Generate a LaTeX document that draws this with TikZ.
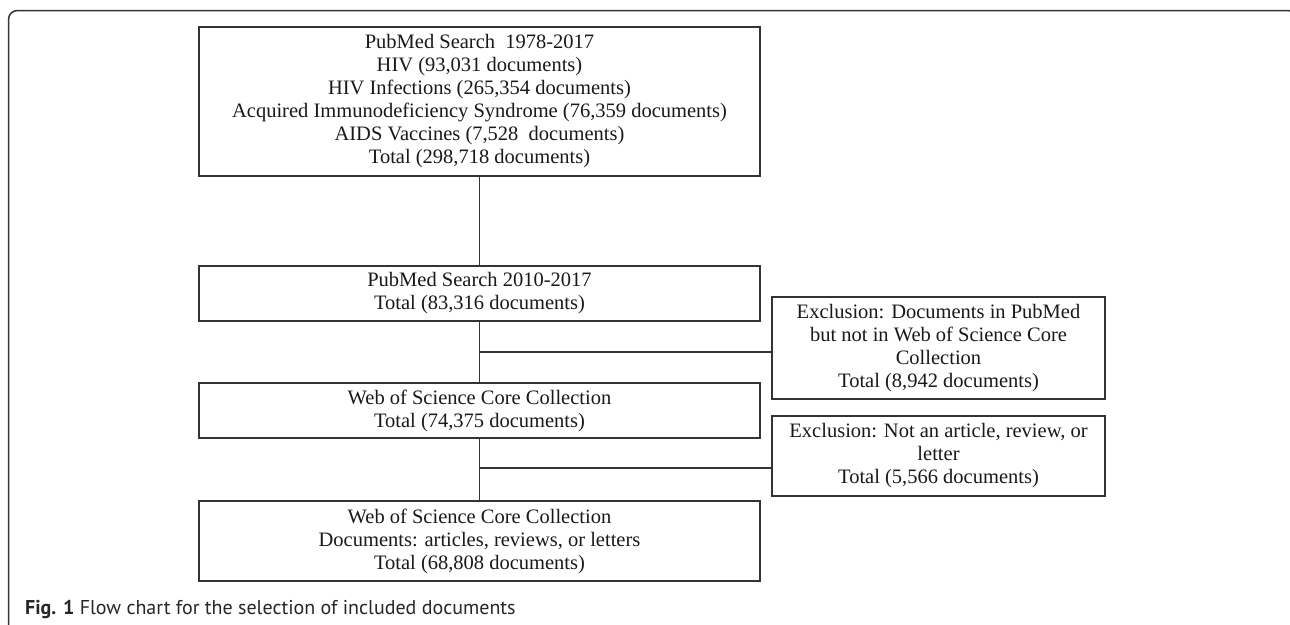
\documentclass[tikz,border=0pt]{standalone}
\usepackage{fontspec}
\setmainfont{Liberation Serif}
\newfontfamily\capfont{PT Sans}
\usepackage{xcolor}
\usepackage{tikz}
\usetikzlibrary{positioning,calc}

\definecolor{inkgray}{HTML}{333333}

\begin{document}
\begin{tikzpicture}[x=1pt, y=-1pt,
    flowbox/.style={draw=inkgray, line width=1.4pt, align=center, inner sep=0pt,
        text=black!90, font=\fontsize{20.5}{23}\selectfont},
    mainbox/.style={flowbox, minimum width=561pt},
    exbox/.style={flowbox, minimum width=333pt},
    link/.style={draw=inkgray, line width=1.2pt}]
    \useasboundingbox (0,0) rectangle (1290,624);

    % Outer frame
    \draw[inkgray, line width=1.5pt, rounded corners=9pt] (8.5,660) -- (8.5,10.5) -- (1297,10.5) -- (1297,660);

    % Main column
    \node[mainbox, minimum height=149pt] (search) at (479.5,101.5)
        {PubMed Search~ 1978-2017\\ HIV (93,031 documents)\\ HIV Infections (265,354 documents)\\
         Acquired Immunodeficiency Syndrome (76,359 documents)\\ AIDS Vaccines (7,528~ documents)\\
         Total (298,718 documents)};
    \node[mainbox, minimum height=55pt] (recent) at (479.5,293.5)
        {PubMed Search 2010-2017\\ Total (83,316 documents)};
    \node[mainbox, minimum height=55pt] (wos) at (479.5,410.5)
        {Web of Science Core Collection\\ Total (74,375 documents)};
    \node[mainbox, minimum height=80pt] (final) at (479.5,541)
        {Web of Science Core Collection\\ Documents: articles, reviews, or letters\\ Total (68,808 documents)};

    % Exclusions
    \node[exbox, minimum height=102pt] (exwos) at (938.5,348)
        {Exclusion: Documents in PubMed\\ but not in Web of Science Core\\ Collection\\ Total (8,942 documents)};
    \node[exbox, minimum height=80pt] (extype) at (938.5,456)
        {Exclusion: Not an article, review, or\\ letter\\ Total (5,566 documents)};

    % Connectors
    \draw[link] (search.south) -- (recent.north);
    \draw[link] (recent.south) -- (wos.north);
    \draw[link] (wos.south) -- (final.north);
    \coordinate (jwos) at (479.5,352);
    \coordinate (jtype) at (479.5,468);
    \draw[link] (jwos) -- (jwos -| exwos.west);
    \draw[link] (jtype) -- (jtype -| extype.west);

    % Caption
    \node[anchor=base west, inner sep=0pt, text=black!85, font=\capfont\fontsize{20}{24}\selectfont] (caption) at (25,614)
        {\textbf{Fig. 1} Flow chart for the selection of included documents};
\end{tikzpicture}
\end{document}
